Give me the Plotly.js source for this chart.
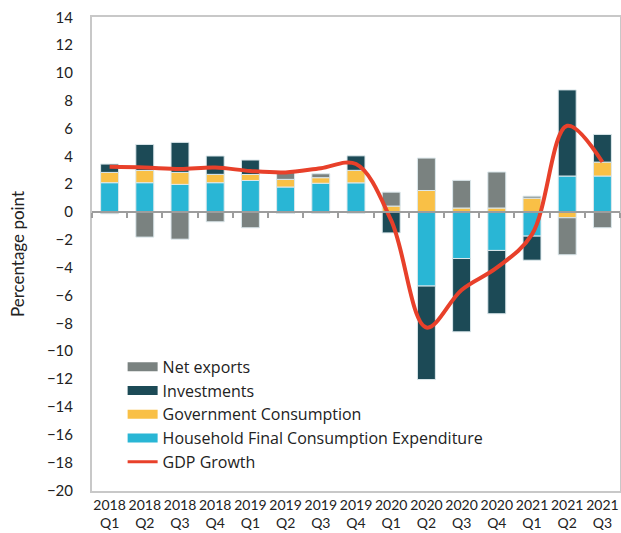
<!DOCTYPE html>
<html>
<head>
<meta charset="utf-8">
<script src="https://cdn.plot.ly/plotly-3.0.1.min.js"></script>
<style>html,body{margin:0;padding:0;background:#fff;}#chart{width:621px;height:533px;}</style>
</head>
<body>
<div id="chart"></div>
<script>
const categories = ["2018<br>Q1","2018<br>Q2","2018<br>Q3","2018<br>Q4","2019<br>Q1","2019<br>Q2","2019<br>Q3","2019<br>Q4","2020<br>Q1","2020<br>Q2","2020<br>Q3","2020<br>Q4","2021<br>Q1","2021<br>Q2","2021<br>Q3"];
const household = [2.11, 2.11, 1.99, 2.11, 2.27, 1.80, 2.07, 2.10, 0.00, -5.32, -3.34, -2.76, -1.73, 2.59, 2.59];
const government = [0.74, 0.88, 0.86, 0.60, 0.43, 0.55, 0.40, 0.90, 0.43, 1.55, 0.29, 0.29, 1.00, -0.41, 1.00];
const investments = [0.60, 1.87, 2.16, 1.32, 1.04, -0.10, -0.10, 1.04, -1.50, -6.72, -5.27, -4.55, -1.73, 6.19, 1.99];
const netExports = [-0.12, -1.80, -1.95, -0.70, -1.13, 0.50, 0.28, -0.10, 1.00, 2.33, 1.99, 2.59, 0.14, -2.66, -1.13];
const gdpGrowth = [3.25, 3.20, 3.10, 3.20, 2.95, 2.85, 3.15, 3.45, -0.60, -8.30, -5.60, -4.00, -1.60, 6.20, 3.60];

const names = ["Household Final Consumption Expenditure","Government Consumption","Investments","Net exports","GDP Growth"];
const colors = {hh:"#29b6d5", gov:"#f9c046", inv:"#1c4a56", nx:"#7a8280", gdp:"#e8402a"};
const FONT = "Lato, 'Open Sans', sans-serif";
const LEGFONT = "'Open Sans', Lato, sans-serif";

const yMin = -20.05, yMax = 14.02;
const zeroPos = (0 - yMin) / (yMax - yMin);

const barLine = {color:"#dce8ec", width:1};
function bar(y, name, color){
  return {type:"bar", x:categories, y:y, name:name, marker:{color:color, line:barLine}, showlegend:false, hoverinfo:"y+name"};
}
function proxy(name, color, w, rank){
  return {type:"scatter", mode:"lines", x:[null], y:[null], name:name, line:{color:color, width:w}, legendrank:rank, hoverinfo:"skip"};
}

const data = [
  bar(household, names[0], colors.hh),
  bar(government, names[1], colors.gov),
  bar(investments, names[2], colors.inv),
  bar(netExports, names[3], colors.nx),
  {type:"scatter", mode:"lines", x:categories, y:gdpGrowth, xaxis:"x2", yaxis:"y", name:names[4],
   line:{color:colors.gdp, width:4, shape:"spline", smoothing:1}, showlegend:false},
  proxy(names[3], colors.nx, 9, 1),
  proxy(names[2], colors.inv, 9, 2),
  proxy(names[1], colors.gov, 9, 3),
  proxy(names[0], colors.hh, 9, 4),
  proxy(names[4], colors.gdp, 3, 5)
];

const layout = {
  width:621, height:533,
  margin:{l:92, r:1, t:17, b:42, pad:0},
  paper_bgcolor:"#fff", plot_bgcolor:"#fff",
  font:{family:FONT, color:"#222", size:14},
  barmode:"relative", bargap:0.49,
  showlegend:true,
  legend:{x:0.058, y:0.298, xanchor:"left", yanchor:"top", bgcolor:"rgba(0,0,0,0)",
          font:{family:LEGFONT, size:16, color:"#222"}, traceorder:"normal", itemwidth:30, tracegroupgap:0},
  xaxis:{type:"category", range:[-0.5,14.5], showline:true, mirror:true, linecolor:"#c8c8c8", linewidth:2,
         ticks:"", showgrid:false, zeroline:false, tickangle:0, tickfont:{size:14, color:"#222"}, fixedrange:true},
  xaxis2:{type:"category", overlaying:"x", anchor:"free", position:zeroPos, side:"bottom", range:[-0.5,14.5],
          showline:true, linecolor:"#9d9d9d", linewidth:2, ticks:"outside", tickson:"boundaries", ticklen:5,
          tickwidth:2, tickcolor:"#9d9d9d", showticklabels:false, showgrid:false, zeroline:false, fixedrange:true},
  yaxis:{range:[yMin,yMax], tick0:0, dtick:2, showline:true, mirror:true, linecolor:"#c8c8c8", linewidth:2,
         ticks:"", ticklabelstandoff:14, showgrid:false, zeroline:false, tickfont:{size:15, color:"#222"},
         title:{text:"Percentage point", font:{size:17, color:"#222"}, standoff:18}, fixedrange:true}
};

Plotly.newPlot("chart", data, layout, {displayModeBar:false, staticPlot:true});
</script>
</body>
</html>
